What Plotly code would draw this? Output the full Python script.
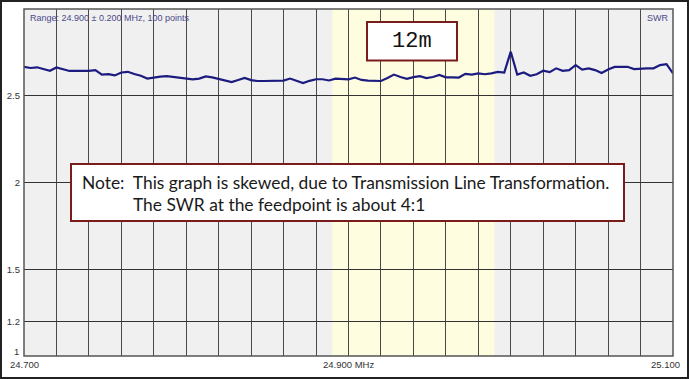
import plotly.graph_objects as go

# Sweep definition (from the chart header: 24.900 +/- 0.200 MHz, 100 points)
f_start = 24.700
f_stop = 25.100
n_steps = 100
freqs = [round(f_start + (f_stop - f_start) * i / n_steps, 4) for i in range(n_steps + 1)]

# SWR values
swr = [
    2.667, 2.660, 2.664, 2.654, 2.644, 2.663, 2.652, 2.643, 2.644, 2.644,
    2.643, 2.648, 2.622, 2.625, 2.617, 2.634, 2.638, 2.625, 2.615, 2.599,
    2.606, 2.610, 2.613, 2.608, 2.602, 2.599, 2.595, 2.599, 2.611, 2.606,
    2.597, 2.589, 2.579, 2.591, 2.603, 2.590, 2.585, 2.585, 2.585, 2.585,
    2.587, 2.599, 2.585, 2.573, 2.586, 2.595, 2.595, 2.588, 2.599, 2.595,
    2.595, 2.605, 2.591, 2.587, 2.586, 2.585, 2.602, 2.622, 2.608, 2.597,
    2.607, 2.613, 2.602, 2.608, 2.620, 2.606, 2.606, 2.605, 2.626, 2.622,
    2.629, 2.624, 2.629, 2.637, 2.634, 2.754, 2.622, 2.634, 2.615, 2.624,
    2.644, 2.636, 2.658, 2.644, 2.648, 2.677, 2.651, 2.658, 2.648, 2.631,
    2.651, 2.666, 2.667, 2.667, 2.654, 2.658, 2.658, 2.658, 2.677, 2.682,
    2.629,
]

x_grid = [round(24.70 + 0.02 * i, 2) for i in range(21)]
x_label_vals = [24.7, 24.9, 25.1]
x_label_text = ["24.700", "24.900 MHz", "25.100"]

y_ticks = [1, 1.2, 1.5, 2, 2.5, 3]
y_text = ["", "1.2", "1.5", "2", "2.5", ""]

band_lo, band_hi = 24.89, 24.99

W, H = 689, 379
ml, mr, mt, mb = 24, 16, 9, 23
pw, ph = W - ml - mr, H - mt - mb

fig = go.Figure()
fig.add_trace(go.Scatter(
    x=freqs, y=swr, mode="lines",
    line=dict(color="#1c1c80", width=2.2),
    hoverinfo="skip", showlegend=False,
))


def px(xp):
    return (xp - ml) / pw


def py(yp):
    return 1 - (yp - mt) / ph


shapes = [
    # 12m band
    dict(type="rect", xref="x", yref="y", x0=band_lo, x1=band_hi, y0=1, y1=3,
         fillcolor="#fefde0", line=dict(width=0), layer="below"),
    # plot frame
    dict(type="rect", xref="paper", yref="paper", x0=0, x1=1, y0=0, y1=1,
         line=dict(color="#555555", width=1.5), layer="above"),
    # outer picture border
    dict(type="rect", xref="paper", yref="paper",
         x0=px(1), x1=px(W - 1), y0=py(H - 1), y1=py(1),
         line=dict(color="#222222", width=2), layer="above"),
    # 12m label box
    dict(type="rect", xref="paper", yref="paper",
         x0=px(367), x1=px(457), y0=py(60.5), y1=py(22),
         fillcolor="white", line=dict(color="#7a1c1c", width=2), layer="above"),
    # note box
    dict(type="rect", xref="paper", yref="paper",
         x0=px(71), x1=px(624), y0=py(221), y1=py(164),
         fillcolor="white", line=dict(color="#7a1c1c", width=2), layer="above"),
]

tick_font = dict(family="Liberation Sans, Arial", size=9.5, color="#333333")
x_label_anchor = ["center", "center", "right"]
x_label_shift = [0, 0, 9]

annotations = [
    dict(text="Range: 24.900 ± 0.200 MHz, 100 points", xref="paper", yref="paper",
         x=px(28), y=py(18), xanchor="left", yanchor="middle", showarrow=False,
         font=dict(family="Liberation Sans, Arial", size=9, color="#4a4a8c")),
    dict(text="SWR", xref="paper", yref="paper",
         x=px(670), y=py(18), xanchor="right", yanchor="middle", showarrow=False,
         font=dict(family="Liberation Sans, Arial", size=9, color="#4a4a8c")),
    dict(text="1", xref="paper", yref="paper",
         x=px(16), y=py(351), xanchor="center", yanchor="middle", showarrow=False,
         font=tick_font),
    dict(text="12m", xref="paper", yref="paper",
         x=px(412), y=py(41.5), xanchor="center", yanchor="middle", showarrow=False,
         font=dict(family="Liberation Mono, Courier New, monospace", size=22, color="#111111")),
    dict(text="Note:  This graph is skewed, due to Transmission Line Transformation.",
         xref="paper", yref="paper",
         x=px(80), y=py(182), xanchor="left", yanchor="middle", showarrow=False,
         font=dict(family="Lato", size=17.4, color="#1a1a1a")),
    dict(text="The SWR at the feedpoint is about 4:1",
         xref="paper", yref="paper",
         x=px(131), y=py(204), xanchor="left", yanchor="middle", showarrow=False,
         font=dict(family="Lato", size=17.4, color="#1a1a1a")),
]
for v, t, a, s in zip(x_label_vals, x_label_text, x_label_anchor, x_label_shift):
    annotations.append(dict(text=t, xref="x", yref="paper", x=v, y=py(364),
                            xanchor=a, yanchor="middle", xshift=s, showarrow=False,
                            font=tick_font))

fig.update_layout(
    width=W, height=H,
    margin=dict(l=ml, r=mr, t=mt, b=mb, pad=0, autoexpand=False),
    paper_bgcolor="white", plot_bgcolor="#f0f0f0",
    shapes=shapes, annotations=annotations,
    xaxis=dict(range=[f_start, f_stop], tickvals=x_grid, showticklabels=False,
               showgrid=True, gridcolor="#4a4a4a", gridwidth=1.3, zeroline=False,
               showline=False, ticks="", automargin=False, fixedrange=True),
    yaxis=dict(range=[1, 3], tickvals=y_ticks, ticktext=y_text,
               showgrid=True, gridcolor="#333333", gridwidth=1.3, zeroline=False,
               showline=False, ticks="", ticklabelstandoff=3, automargin=False,
               tickfont=tick_font, fixedrange=True),
)

fig.write_html("out.html")
